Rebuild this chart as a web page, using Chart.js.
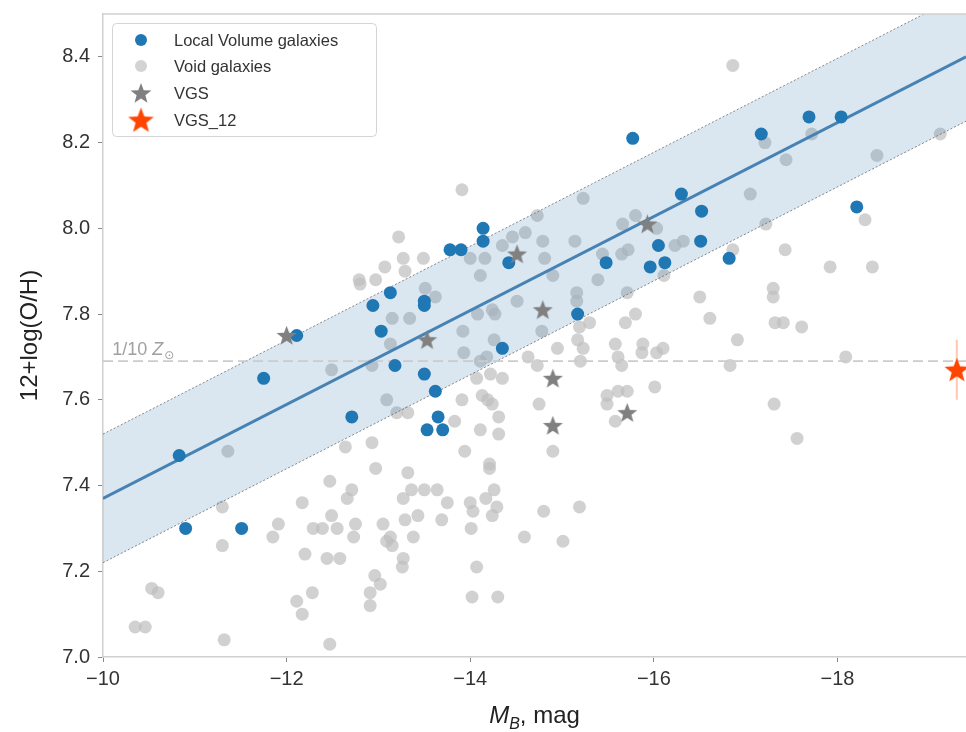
<!DOCTYPE html>
<html>
<head>
<meta charset="utf-8">
<script src="https://cdn.jsdelivr.net/npm/chart.js@4.4.0/dist/chart.umd.min.js"></script>
<style>
  html, body { margin: 0; padding: 0; background: #fff; }
  #wrap { position: relative; width: 966px; height: 732px; }
</style>
</head>
<body>
<div id="wrap"><canvas id="chart" width="966" height="732"></canvas></div>
<script>
// ---- data ----
const localMB = [-10.83,-10.90,-11.51,-11.75,-12.11,-12.71,-12.94,-13.03,-13.13,-13.18,-13.50,-13.50,-13.50,-13.62,-13.65,-13.53,-13.70,-13.78,-13.90,-14.14,-14.14,-14.35,-14.42,-15.17,-15.48,-15.77,-15.96,-16.05,-16.12,-16.30,-16.51,-16.52,-16.82,-17.17,-17.69,-18.04,-18.21];
const localOH = [7.47,7.30,7.30,7.65,7.75,7.56,7.82,7.76,7.85,7.68,7.83,7.82,7.66,7.62,7.56,7.53,7.53,7.95,7.95,8.00,7.97,7.72,7.92,7.80,7.92,8.21,7.91,7.96,7.92,8.08,7.97,8.04,7.93,8.22,8.26,8.26,8.05];

const voidMB = [
  -12.49,-11.36,-12.64,-12.47,-12.17,-11.30,-12.49,-12.66,-11.91,-11.85,-11.30,-12.29,-12.39,-12.55,-12.20,-12.44,-12.58,-10.53,-10.60,-12.28,-12.11,-12.17,-10.35,-10.46,-11.32,-12.47,
  -13.92,-13.13,-12.93,-13.93,-14.26,-14.18,-14.11,-14.07,-14.22,-14.35,-14.95,-15.17,-15.23,-14.63,-14.73,-15.20,-13.09,-13.32,-13.20,-13.83,-13.91,-14.13,-14.19,-14.24,-14.31,-14.11,-14.31,-14.75,-14.90,-12.93,-13.94,-12.97,-13.32,-14.21,-14.21,
  -12.71,-13.36,-13.27,-13.50,-13.64,-13.75,-14.00,-14.03,-14.17,-14.26,-14.29,-14.24,-12.75,-12.73,-13.05,-13.29,-13.43,-13.69,-13.09,-13.15,-13.13,-13.38,-14.01,-13.27,-13.26,-12.96,-13.02,-12.91,-12.91,-14.07,-14.02,-14.30,-14.59,-14.80,-15.01,-15.19,
  -13.91,-13.22,-13.27,-13.49,-13.07,-13.29,-12.79,-12.80,-12.97,-15.23,-14.73,-14.46,-14.35,-14.60,-14.79,-15.14,-15.66,-15.80,-14.00,-14.16,-14.81,-14.11,-14.90,-15.39,-15.65,-15.72,-15.44,-13.51,-13.62,-13.15,-13.34,-14.08,-14.24,-14.27,-14.51,-15.16,-15.16,-14.78,-15.71,-15.80,-15.69,-15.58,-15.30,-15.19,
  -16.86,-17.21,-17.72,-17.44,-19.12,-18.43,-17.05,-17.22,-16.03,-16.23,-16.32,-16.86,-17.43,-17.92,-18.38,-18.30,-16.11,-16.50,-16.61,-17.30,-17.30,-17.32,-17.41,-17.61,
  -16.91,-15.88,-15.87,-16.10,-16.03,-15.61,-15.65,-16.83,-18.09,-16.01,-15.49,-15.49,-15.61,-15.71,-15.58,-17.31,-17.56
];
const voidOH = [
  7.67,7.48,7.49,7.41,7.36,7.35,7.33,7.37,7.31,7.28,7.26,7.30,7.30,7.30,7.24,7.23,7.23,7.16,7.15,7.15,7.13,7.10,7.07,7.07,7.04,7.03,
  7.76,7.73,7.68,7.71,7.74,7.70,7.69,7.65,7.66,7.65,7.72,7.74,7.72,7.70,7.68,7.69,7.60,7.57,7.57,7.55,7.60,7.61,7.60,7.59,7.56,7.53,7.52,7.59,7.48,7.50,7.48,7.44,7.43,7.45,7.44,
  7.39,7.39,7.37,7.39,7.39,7.36,7.36,7.34,7.37,7.39,7.35,7.33,7.31,7.28,7.31,7.32,7.33,7.32,7.27,7.26,7.28,7.28,7.30,7.23,7.21,7.19,7.17,7.15,7.12,7.21,7.14,7.14,7.28,7.34,7.27,7.35,
  8.09,7.98,7.93,7.93,7.91,7.90,7.88,7.87,7.88,8.07,8.03,7.98,7.96,7.99,7.97,7.97,8.01,8.03,7.93,7.93,7.93,7.89,7.89,7.88,7.94,7.95,7.94,7.86,7.84,7.79,7.79,7.80,7.81,7.80,7.83,7.85,7.83,7.76,7.85,7.80,7.78,7.73,7.78,7.77,
  8.38,8.20,8.22,8.16,8.22,8.17,8.08,8.01,8.00,7.96,7.97,7.95,7.95,7.91,7.91,8.02,7.89,7.84,7.79,7.86,7.84,7.78,7.78,7.77,
  7.74,7.73,7.71,7.72,7.71,7.70,7.68,7.68,7.70,7.63,7.61,7.59,7.62,7.62,7.55,7.59,7.51
];

const vgsMB = [-12.00,-13.53,-14.51,-14.79,-14.90,-14.90,-15.71,-15.93];
const vgsOH = [7.75,7.74,7.94,7.81,7.65,7.54,7.57,8.01];

const vgs12MB = [-19.30];
const vgs12OH = [7.67];
const vgs12Err = [0.07];

// linear fit and its +-0.15 dex band
const fitMB = [-10, -19.4];
const fitOH = [7.37, 8.40];
const bandHalf = 0.15;
const tenthSolar = 7.69;

const xTicks = [-10, -12, -14, -16, -18];
const yTicks = [7.0, 7.2, 7.4, 7.6, 7.8, 8.0, 8.2, 8.4];

const FONT = "'Liberation Sans', Arial, sans-serif";

function pts(xs, ys) { return xs.map((x, i) => ({ x: x, y: ys[i] })); }

function starCanvas(color, r) {
  const c = document.createElement("canvas");
  const s = Math.ceil(2 * r + 2);
  c.width = c.height = s;
  const g = c.getContext("2d");
  g.fillStyle = color;
  g.beginPath();
  for (let i = 0; i < 10; i++) {
    const rr = i % 2 ? r * 0.42 : r;
    const a = -Math.PI / 2 + i * Math.PI / 5;
    g.lineTo(s / 2 + rr * Math.cos(a), s / 2 + rr * Math.sin(a) + r * 0.08);
  }
  g.closePath();
  g.fill();
  return c;
}

const grayStar = starCanvas("#808080", 10.5);
const redStar = starCanvas("#ff4500", 13);
const grayStarLg = starCanvas("#808080", 11);
const redStarLg = starCanvas("#ff4500", 13.5);

// extra drawing: top spine, 1/10 Zsun label, x title, legend
const extras = {
  id: "extras",
  afterDraw(chart) {
    const ctx = chart.ctx;
    const a = chart.chartArea;
    const xs = chart.scales.x, ys = chart.scales.y;
    ctx.save();
    ctx.strokeStyle = "#d0d0d0";
    ctx.lineWidth = 1.5;
    ctx.beginPath();
    ctx.moveTo(a.left, a.top);
    ctx.lineTo(a.right, a.top);
    ctx.stroke();

    // 1/10 Z_sun label
    let px = xs.getPixelForValue(-10.1);
    let py = ys.getPixelForValue(tenthSolar) - 6;
    ctx.fillStyle = "#a0a0a0";
    ctx.textBaseline = "alphabetic";
    ctx.font = "18px " + FONT;
    ctx.fillText("1/10 ", px, py);
    px += ctx.measureText("1/10 ").width;
    ctx.font = "italic 18px " + FONT;
    ctx.fillText("Z", px, py);
    px += ctx.measureText("Z").width + 1;
    ctx.font = "12px 'DejaVu Sans', sans-serif";
    ctx.fillText("\u2299", px, py + 4);

    // x axis title
    const parts = [
      { t: "M", f: "italic 24px " + FONT, dy: 0 },
      { t: "B", f: "italic 16px " + FONT, dy: 6 },
      { t: ", mag", f: "24px " + FONT, dy: 0 }
    ];
    let w = 0;
    parts.forEach(p => { ctx.font = p.f; w += ctx.measureText(p.t).width; });
    px = (a.left + a.right) / 2 - w / 2;
    py = 723;
    ctx.fillStyle = "#222";
    parts.forEach(p => {
      ctx.font = p.f;
      ctx.fillText(p.t, px, py + p.dy);
      px += ctx.measureText(p.t).width;
    });

    // legend
    ctx.fillStyle = "rgba(255,255,255,0.85)";
    ctx.strokeStyle = "#d4d4d4";
    ctx.lineWidth = 1;
    ctx.beginPath();
    ctx.roundRect(112.5, 23.5, 264, 113, 4);
    ctx.fill();
    ctx.stroke();
    const rows = [
      { label: "Local Volume galaxies", kind: "dot", color: "#1f77b4" },
      { label: "Void galaxies", kind: "dot", color: "#d3d3d3" },
      { label: "VGS", kind: "img", img: grayStarLg },
      { label: "VGS_12", kind: "img", img: redStarLg }
    ];
    const rowY = [40, 66, 93, 120];
    ctx.font = "16.5px " + FONT;
    ctx.textBaseline = "middle";
    rows.forEach((r, i) => {
      const cy = rowY[i];
      if (r.kind === "dot") {
        ctx.fillStyle = r.color;
        ctx.beginPath();
        ctx.arc(141, cy, 6, 0, Math.PI * 2);
        ctx.fill();
      } else {
        ctx.drawImage(r.img, 141 - r.img.width / 2, cy - r.img.height / 2);
      }
      ctx.fillStyle = "#333";
      ctx.fillText(r.label, 174, cy + 1);
    });
    ctx.restore();
  }
};

const bandUpper = fitOH.map(v => v + bandHalf);
const bandLower = fitOH.map(v => v - bandHalf);

new Chart(document.getElementById("chart"), {
  type: "scatter",
  data: {
    datasets: [
      {
        label: "Void galaxies",
        data: pts(voidMB, voidOH),
        backgroundColor: "rgba(190,190,190,0.7)",
        borderWidth: 0,
        pointRadius: 6.5,
        order: 9
      },
      {
        type: "line",
        label: "band upper",
        data: pts(fitMB, bandUpper),
        borderColor: "rgba(90,90,90,0.7)",
        borderWidth: 1,
        borderDash: [2, 2],
        pointRadius: 0,
        fill: false,
        order: 8
      },
      {
        type: "line",
        label: "band lower",
        data: pts(fitMB, bandLower),
        borderColor: "rgba(90,90,90,0.7)",
        borderWidth: 1,
        borderDash: [2, 2],
        backgroundColor: "rgba(70,130,180,0.2)",
        pointRadius: 0,
        fill: "-1",
        order: 7
      },
      {
        type: "line",
        label: "1/10 Zsun",
        data: pts(fitMB, [tenthSolar, tenthSolar]),
        borderColor: "#cccccc",
        borderWidth: 1.8,
        borderDash: [10, 5],
        pointRadius: 0,
        order: 6
      },
      {
        type: "line",
        label: "fit",
        data: pts(fitMB, fitOH),
        borderColor: "#4682b4",
        borderWidth: 2.8,
        pointRadius: 0,
        order: 5
      },
      {
        type: "line",
        label: "VGS_12 error",
        data: [
          { x: vgs12MB[0], y: vgs12OH[0] - vgs12Err[0] },
          { x: vgs12MB[0], y: vgs12OH[0] + vgs12Err[0] }
        ],
        borderColor: "rgba(255,69,0,0.3)",
        borderWidth: 2,
        pointRadius: 0,
        order: 4
      },
      {
        label: "Local Volume galaxies",
        data: pts(localMB, localOH),
        backgroundColor: "#1f77b4",
        borderWidth: 0,
        pointRadius: 6.5,
        order: 3
      },
      {
        label: "VGS",
        data: pts(vgsMB, vgsOH),
        pointStyle: grayStar,
        order: 2
      },
      {
        label: "VGS_12",
        data: pts(vgs12MB, vgs12OH),
        pointStyle: redStar,
        order: 1
      }
    ]
  },
  options: {
    responsive: false,
    devicePixelRatio: 1,
    animation: false,
    layout: { autoPadding: false, padding: { top: 14, left: 0, right: 0, bottom: 0 } },
    plugins: {
      legend: { display: false },
      tooltip: { enabled: false }
    },
    scales: {
      x: {
        type: "linear",
        min: -19.4,
        max: -10,
        reverse: true,
        afterBuildTicks: s => { s.ticks = xTicks.map(v => ({ value: v })); },
        afterFit: s => { s.height = 75; s.paddingLeft = 0; s.paddingRight = 0; },
        ticks: {
          callback: v => String(v).replace("-", "\u2212"),
          font: { size: 20, family: FONT },
          color: "#333",
          padding: 5,
          maxRotation: 0,
          autoSkip: false
        },
        grid: { drawOnChartArea: false, tickLength: 5, color: "#888" },
        border: { color: "#d0d0d0", width: 1.5 }
      },
      y: {
        min: 7.0,
        max: 8.5,
        afterBuildTicks: s => { s.ticks = yTicks.map(v => ({ value: v })); },
        afterFit: s => { s.width = 103; s.paddingTop = 0; s.paddingBottom = 0; },
        ticks: {
          callback: v => v.toFixed(1),
          font: { size: 20, family: FONT },
          color: "#333",
          padding: 8
        },
        grid: { drawOnChartArea: false, tickLength: 5, color: "#888" },
        border: { color: "#d0d0d0", width: 1.5 },
        title: {
          display: true,
          text: "12+log(O/H)",
          font: { size: 24, family: FONT },
          color: "#222",
          padding: { top: 16, bottom: 0 }
        }
      }
    }
  },
  plugins: [extras]
});
</script>
</body>
</html>
